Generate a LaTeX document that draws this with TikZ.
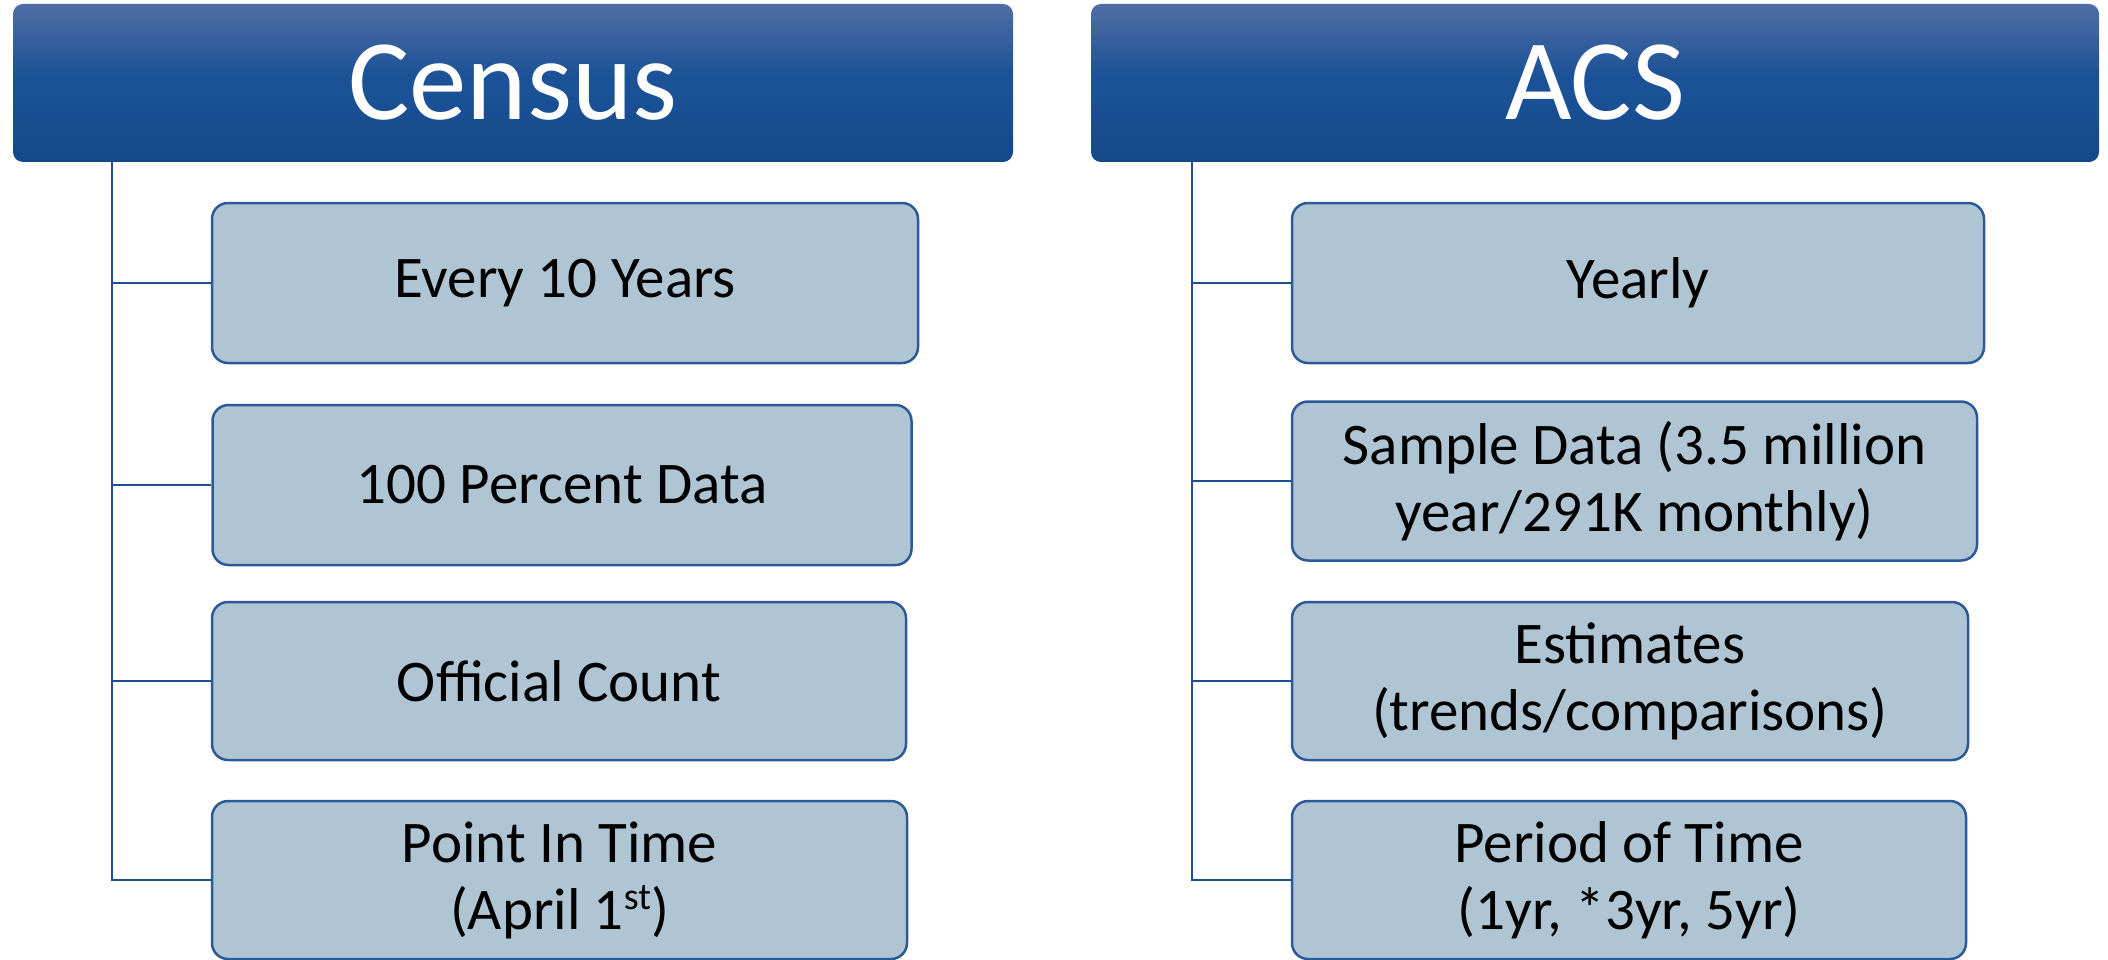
\documentclass[tikz,border=0pt]{standalone}
\usepackage{fontspec}
\setmainfont{Carlito}
\definecolor{htop}{HTML}{4F6EA3}
\definecolor{hmid}{HTML}{1B5196}
\definecolor{hbot}{HTML}{144889}
\definecolor{boxfill}{HTML}{B0C5D3}
\definecolor{boxline}{HTML}{2C5A98}
\definecolor{connline}{HTML}{1F4E8C}
\pgfdeclareverticalshading{hdrshade}{100bp}{color(0bp)=(hbot); color(25bp)=(hbot); color(47bp)=(hmid); color(52bp)=(hmid); color(75bp)=(htop); color(100bp)=(htop)}
\newcommand{\supst}[1]{\raisebox{20pt}{\fontsize{38}{38}\selectfont #1}}
\tikzset{
  header/.style={rectangle, rounded corners=10pt, shading=hdrshade, draw=none, inner sep=0pt,
    minimum height=158pt, text=white, font=\fontsize{115}{120}\selectfont},
  itembox/.style={rectangle, rounded corners=16pt, fill=boxfill, draw=boxline, line width=2.5pt,
    inner sep=0pt, minimum height=158pt, align=center, text=black, font=\fontsize{59}{67}\selectfont},
  conn/.style={draw=connline, line width=2.5pt}
}
\begin{document}
\begin{tikzpicture}[x=1pt,y=-1pt]
\useasboundingbox (0,0) rectangle (2108,960);
% headers
\node[header, minimum width=1000pt] (census) at (513,83) {Census};
\node[header, minimum width=1008pt] (acs) at (1595,83) {ACS};
% census items
\node[itembox, minimum width=706pt, minimum height=160pt] (c1) at (565,283) {Every 10 Years};
\node[itembox, minimum width=699pt, minimum height=160pt] (c2) at (562,485) {100 Percent Data};
\node[itembox, minimum width=694pt] (c3) at (559,681) {Official Count};
\node[itembox, minimum width=695pt] (c4) at (559.5,880) {Point In Time\\(April 1\supst{st})};
% acs items
\node[itembox, minimum width=692pt, minimum height=160pt] (a1) at (1638,283) {Yearly};
\node[itembox, minimum width=685pt, minimum height=159pt] (a2) at (1634.5,481) {Sample Data (3.5 million\\year/291K monthly)};
\node[itembox, minimum width=676pt] (a3) at (1630,681) {Estimates\\(trends/comparisons)};
\node[itembox, minimum width=674pt] (a4) at (1629,880) {Period of Time\\(1yr, *3yr, 5yr)};
% spines
\coordinate (cs) at (112,162);
\coordinate (as) at (1192,162);
\begin{scope}[on background layer/.try]
\draw[conn] (cs) |- (c4.west);
\draw[conn] (cs) |- (c1.west);
\draw[conn] (cs) |- (c2.west);
\draw[conn] (cs) |- (c3.west);
\draw[conn] (as) |- (a4.west);
\draw[conn] (as) |- (a1.west);
\draw[conn] (as) |- (a2.west);
\draw[conn] (as) |- (a3.west);
\end{scope}
\end{tikzpicture}
\end{document}
